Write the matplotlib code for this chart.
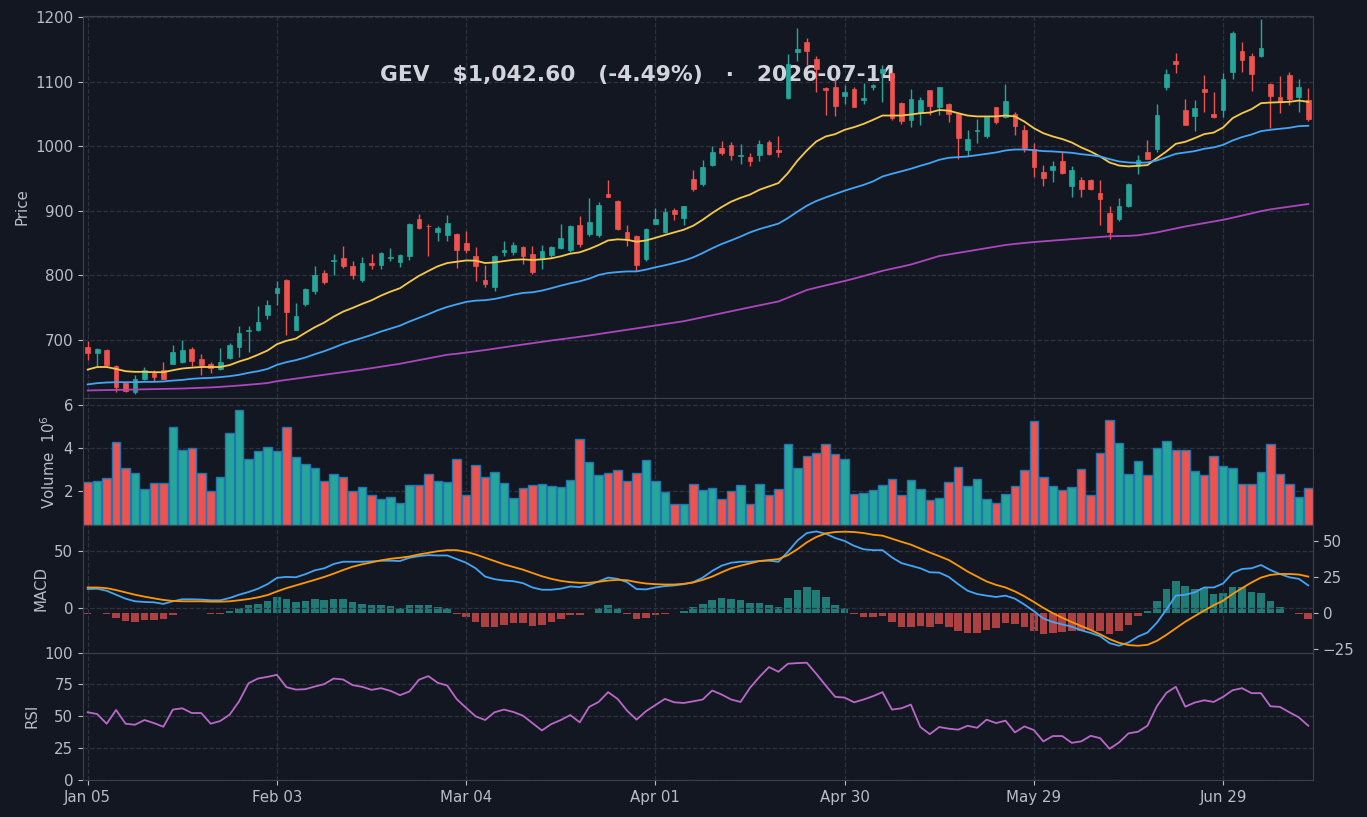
import numpy as np
import matplotlib.pyplot as plt

# colours
BG = "#131722"
UP = "#26a69a"
DOWN = "#ef5350"
GRID = "#2e3240"
SPINE = "#3b3f4c"
TXT = "#b8bcc6"
TITLE = "#d1d4dc"

ticker = "GEV"
last_date = "2026-07-14"
tick_labels = ["Jan 05", "Feb 03", "Mar 04", "Apr 01", "Apr 30", "May 29", "Jun 29"]

open_ = [689.7, 679.4, 685, 660, 632.5, 619, 639, 649, 654, 663.4,
         666, 686.6, 671, 662, 655, 671.6, 689.7, 714, 715, 738,
         773, 793.3, 716, 756, 775, 803.6, 821.6, 826.8, 815, 793.3,
         819.6, 815.5, 827, 821, 829.4, 887.6, 877, 866.5, 862.9, 864,
         850, 830.4, 793.3, 781.4, 835.6, 835.6, 843.8, 833.5, 826.8, 831.4,
         842.8, 839.7, 878.4, 864.4, 862.9, 925.8, 915.5, 867, 861.3, 825.8,
         880, 867, 901.5, 888.6, 949.5, 941.8, 971, 997.4, 1001, 984,
         983, 986.6, 1007, 994.3, 1074, 1146.4, 1162, 1134.5, 1090.7, 1091.2,
         1077.8, 1088.2, 1071.6, 1091.2, 1113.9, 1113.9, 1066.5, 1040.7, 1052, 1086.6,
         1061.3, 1066, 1049, 993.3, 1022.7, 1015.9, 1060.3, 1045, 1050.5, 1025.3,
         995.4, 959.8, 962.4, 976.8, 939, 947.4, 947.4, 926.8, 896.4, 887,
         907.2, 968.6, 991.2, 995.4, 1091.2, 1131.4, 1055.7, 1046.9, 1089.2, 1050.5,
         1055.7, 1115.5, 1147.4, 1139.7, 1140.2, 1096.9, 1075.8, 1110.3, 1076.8, 1071.1]
high = [698, 687, 686.6, 661, 633.5, 645, 658, 654, 666, 692,
        700.5, 688.7, 678, 666, 687.6, 695, 722, 722, 752, 762,
        791.8, 794, 757, 780.4, 814.4, 808.8, 833, 845.9, 822.7, 829,
        833, 836, 842, 833, 880.9, 895.4, 880, 876, 893.8, 866,
        868, 843.8, 816.5, 831, 853.6, 851.5, 845, 844.8, 846.4, 845,
        879.4, 877.5, 891.2, 919, 912.9, 948, 916.5, 878.4, 862, 873,
        904.6, 904.6, 903.6, 907.2, 963.4, 978.9, 999.5, 1008, 1006, 1003,
        989, 1009.8, 1009.8, 1016, 1142, 1182.5, 1167, 1139.7, 1091.5, 1105,
        1094.8, 1092, 1098.5, 1096, 1125.8, 1114.5, 1069, 1088, 1076.8, 1087.5,
        1092, 1067, 1050, 1025.3, 1041.7, 1046.5, 1061, 1095.6, 1053.6, 1033,
        1004.6, 971, 976.3, 991.7, 969.6, 951.5, 948.5, 947.9, 906.7, 919.6,
        942.8, 985.6, 1009.8, 1064.9, 1119, 1144.8, 1072.7, 1071.6, 1110.3, 1083.5,
        1112.9, 1178.4, 1161.9, 1143.8, 1196.4, 1098, 1109.3, 1115.5, 1103.6, 1090.7]
low = [669.6, 659, 660, 619.6, 619.6, 616.5, 638, 637, 638.7, 662,
       664, 659, 645, 649, 654, 670, 673.7, 681.4, 713.5, 733,
       754.6, 708, 715, 753, 771.6, 786.6, 801, 811, 794.3, 789,
       809.8, 810, 821.6, 812.9, 824, 871.6, 829.4, 852.6, 852.6, 811,
       834.5, 790.7, 782, 775.3, 830.4, 832, 818, 802, 809.8, 826.8,
       841, 836, 843.8, 860.5, 859.3, 921, 869.6, 844.8, 807.2, 822.7,
       879, 865.5, 886, 878.4, 929.9, 939, 969, 985.6, 977.8, 972.7,
       968.6, 976.3, 986, 983, 1073, 1132.5, 1125.8, 1084.5, 1048.5, 1047,
       1065.5, 1060.5, 1065.5, 1087, 1069, 1040.5, 1034.5, 1030, 1032, 1047.9,
       1048, 1038, 979.9, 984, 1004.6, 1013, 1034.5, 1044, 1016.5, 990.2,
       952, 937.6, 944, 956.5, 922, 921, 932, 877.3, 856.2, 883.5,
       906, 956.7, 979.5, 991.7, 1087, 1112.9, 1033, 1022.7, 1053.6, 1043,
       1045.8, 1103.6, 1115.5, 1086, 1138, 1027.8, 1052, 1064, 1053.6, 1039]
close = [679.4, 686, 661, 627, 620.6, 640, 652.6, 642, 640, 682,
         685, 667, 661, 656.7, 666, 692.8, 711.3, 716, 727, 754.6,
         780.4, 743.8, 737.6, 778.9, 801, 789, 824, 815, 801, 819,
         816.5, 834.5, 829, 832, 879.9, 873.7, 875.8, 874, 881.4, 839.7,
         839.7, 813.9, 787, 830.4, 839.7, 847.4, 830.4, 804.6, 837.1, 843.8,
         857.7, 876.3, 849, 883, 909.3, 922, 871.6, 854, 816.5, 872,
         887.6, 898.5, 895.4, 907.2, 934, 968, 991, 989.2, 986.6, 986.6,
         977.3, 1003.6, 988, 990.2, 1127, 1150.5, 1148, 1119.6, 1087, 1062.4,
         1084.5, 1061.3, 1074.7, 1094.8, 1119.6, 1043.3, 1039.7, 1073, 1071.6, 1061.9,
         1091.2, 1049.5, 1012, 1011.4, 1025.3, 1045.8, 1038, 1070, 1031, 996.4,
         967, 950, 969, 957.7, 962.9, 933, 933, 917.5, 866.5, 906.7,
         940.7, 978.9, 980.4, 1047.9, 1111.3, 1126.8, 1033.5, 1058.8, 1084.5, 1044.8,
         1103.6, 1175.3, 1133.5, 1111.9, 1152.6, 1077.3, 1069.6, 1072.7, 1091.6, 1042.6]

# volume in millions
volume = [2.42, 2.47, 2.6, 4.28, 3.07, 2.84, 2.09, 2.37, 2.37, 4.98,
          3.91, 4.0, 2.84, 2.0, 2.65, 4.7, 5.77, 3.49, 3.86, 4.05,
          3.86, 5.02, 3.58, 3.26, 3.07, 2.47, 2.79, 2.65, 2.0, 2.19,
          1.81, 1.63, 1.72, 1.44, 2.28, 2.28, 2.79, 2.47, 2.42, 3.53,
          1.83, 3.21, 2.65, 2.88, 2.37, 1.67, 2.14, 2.28, 2.33, 2.23,
          2.19, 2.51, 4.42, 3.35, 2.74, 2.84, 2.98, 2.47, 2.84, 3.44,
          2.47, 1.95, 1.4, 1.4, 2.33, 2.05, 2.14, 1.63, 2.0, 2.28,
          1.4, 2.33, 1.81, 2.09, 4.19, 3.07, 3.63, 3.81, 4.19, 3.72,
          3.53, 1.86, 1.91, 2.05, 2.28, 2.56, 1.81, 2.51, 2.09, 1.58,
          1.67, 2.42, 3.12, 2.23, 2.56, 1.63, 1.44, 1.86, 2.23, 2.98,
          5.26, 2.65, 2.23, 2.05, 2.19, 3.02, 1.81, 3.81, 5.3, 4.23,
          2.79, 3.4, 2.74, 4.0, 4.33, 3.91, 3.91, 2.93, 2.74, 3.63,
          3.16, 3.07, 2.33, 2.33, 2.88, 4.19, 2.79, 2.33, 1.72, 2.14]

ma_fast = [654, 658, 658, 655, 651.5, 650.5, 650.5, 650, 650, 653,
           655.7, 657, 658, 658, 658, 661, 666.5, 671, 677, 683.5,
           693.3, 698.5, 702, 711, 719.6, 726.8, 736, 743.8, 749.5, 755.7,
           761.3, 768.6, 774.7, 780, 789.7, 799, 806.7, 814, 819, 821,
           823, 822.7, 819, 820, 822, 824, 824.7, 823.7, 824.7, 826.3,
           829.4, 833.5, 835.6, 840.7, 846.9, 854, 855.7, 855, 852, 854,
           858, 862.4, 866.5, 870.6, 876.8, 886, 896.4, 905.7, 914, 920,
           925, 932.5, 937.6, 942.8, 958.2, 977.3, 993.3, 1007.2, 1015, 1018.6,
           1025.3, 1029.4, 1034.5, 1040.7, 1047.4, 1047.4, 1047.4, 1049, 1051, 1052,
           1056, 1055, 1051, 1047.4, 1046, 1046, 1046, 1047.4, 1046, 1038,
           1027.8, 1020, 1015, 1011, 1005.7, 998, 991.7, 984, 974.7, 970,
           968.6, 969.6, 970.6, 981.4, 991.7, 1003.6, 1006.7, 1012.4, 1018.6, 1021,
           1028.9, 1043.3, 1051, 1057.2, 1066.5, 1067.5, 1068, 1068.6, 1070.6, 1068.6]
ma_mid = [631, 633, 634, 634.5, 634.5, 634.5, 635, 635, 635.6, 637,
          638, 639.7, 640.7, 641.2, 642.3, 643.8, 645.9, 649, 651.5, 655,
          661.3, 665.5, 668.6, 672.7, 677.8, 682.5, 688, 693.8, 698.5, 703,
          707.7, 712.9, 717.5, 722, 728.4, 734, 739.7, 745.9, 751, 755,
          758.8, 760.8, 761.5, 763.4, 766.5, 770, 772.7, 773.7, 776.3, 780,
          784, 787.6, 790.7, 794.8, 800.5, 803.6, 805, 806, 806, 808.8,
          812.4, 815.5, 819, 822.7, 827.8, 834.5, 841.8, 848.5, 854, 860,
          866.5, 871.6, 875.8, 880, 888.6, 898.5, 907.7, 915, 920.6, 925.8,
          931, 935.6, 940, 945.4, 953, 957.2, 961, 965, 969.6, 973.7,
          978.9, 982, 983, 984, 986, 988.1, 990.2, 993.3, 994.8, 994.8,
          993.8, 992.3, 991.8, 990.7, 989.7, 987.6, 986, 984, 979.9, 976.3,
          974.7, 974.2, 974.7, 977.8, 983, 988.1, 990.2, 992.3, 995.9, 998,
          1002, 1008.8, 1014, 1018, 1023.2, 1025.3, 1026.8, 1028.4, 1031, 1031.5]
ma_slow = [621.6, 622, 622.2, 622.5, 622.8, 623.2, 623.4, 623.7, 624, 624.3,
           624.7, 625.2, 625.8, 626.4, 627.2, 628.2, 629.3, 630.5, 631.8, 633.2,
           636, 638, 640, 642, 644, 646, 648, 650, 652, 654,
           656.2, 658.5, 660.8, 663, 665.8, 668.6, 671.4, 674.2, 677, 678.5,
           680.4, 682.3, 684.2, 686.4, 688.5, 690.7, 692.8, 695, 697, 699,
           700.9, 702.9, 704.8, 706.8, 709, 711.1, 713.3, 715.5, 717.7, 720,
           722.2, 724.5, 726.7, 728.9, 732, 735.1, 738.2, 741.3, 744.5, 747.5,
           750.5, 753.5, 756.5, 759.5, 765.3, 771.2, 777.2, 780.9, 784.4, 787.8,
           791.2, 794.9, 798.9, 802.9, 806.9, 810.2, 813.3, 816.7, 821, 825.5,
           829.9, 832.3, 834.8, 837.2, 839.6, 842.1, 844.5, 846.9, 848.6, 850.1,
           851.5, 852.6, 853.8, 854.9, 856, 857.2, 858.3, 859.4, 860.4, 860.7,
           861.1, 862, 864.1, 866.4, 869.5, 872.6, 875.6, 878.2, 880.8, 883.4,
           885.9, 889.1, 892.5, 895.9, 899.3, 902.1, 904.2, 906.3, 908.3, 910.4]

macd = [16.6, 16.9, 15.1, 11.6, 8.1, 5.8, 5.2, 4.9, 3.5, 5.8,
        7.6, 7.6, 7.3, 6.7, 6.7, 8.7, 11.6, 14, 16.9, 20.9,
        26.5, 27.3, 27, 29.7, 33.1, 34.9, 38.7, 40.7, 40.7, 40.7,
        41, 41.6, 41.6, 41.3, 44.2, 45.6, 46.5, 46.2, 46.2, 43,
        39.8, 34.9, 27.6, 25.3, 24.1, 23.5, 21.8, 18, 16, 16,
        16.9, 18.9, 18.3, 20.3, 23.3, 26.7, 25.6, 22.7, 16.6, 16.3,
        18, 19.2, 19.8, 20.9, 22.7, 26.7, 32.6, 37.2, 39.8, 40.7,
        40.7, 41.3, 41.6, 40.7, 49.4, 59.3, 66, 67.4, 65.4, 61.6,
        59, 54.7, 51.7, 50.9, 50.9, 44.5, 39.5, 37.2, 34.9, 31.4,
        31.1, 27.3, 20.9, 15.1, 12.2, 10.8, 9.6, 10.8, 8.1, 2.9,
        -2.9, -9.3, -12.5, -14.5, -16.6, -19.8, -22.1, -25, -31.1, -33.4,
        -30.5, -25.3, -21.8, -13.1, -1.5, 10.8, 11.6, 13.7, 18, 18,
        21.5, 30.8, 34.3, 34.9, 37.8, 33.4, 29.9, 27, 25.6, 19.8]
signal = [18, 18, 17.4, 15.7, 13.7, 11.6, 9.9, 8.4, 7, 6.1,
          5.8, 5.8, 5.8, 5.5, 5.5, 5.8, 6.7, 7.8, 9.3, 11.3,
          14.5, 17.4, 19.8, 22.1, 24.7, 27.3, 30.2, 33.4, 36.3, 38.4,
          40.1, 41.9, 43.3, 44.2, 45.3, 47.1, 48.5, 50, 50.9, 50.9,
          49.4, 47.1, 44.2, 41.3, 38.4, 36, 33.7, 30.8, 27.9, 25.6,
          23.8, 22.7, 22.1, 22.1, 23, 24.1, 24.7, 24.4, 22.7, 21.5,
          20.9, 20.6, 20.6, 21.2, 22.4, 24.7, 27.6, 31.4, 34.9, 37.2,
          39.2, 41.3, 42.2, 43, 46.5, 51.7, 57.8, 62.5, 65.7, 66.9,
          67.2, 66.9, 66, 64.5, 63.7, 61, 58.3, 55.8, 52.3, 48.8,
          45.6, 42.2, 37.2, 32, 27.6, 23.3, 20.3, 18, 14.5, 10.2,
          5.2, 0, -4.7, -8.7, -12.5, -16, -19.5, -23.3, -27.6, -30.8,
          -32.8, -33.4, -32.6, -29.1, -23.8, -18, -12.2, -7.3, -2.3, 2.3,
          6.4, 12.2, 17.4, 22.4, 26.7, 29.1, 29.9, 29.9, 29.4, 27.6]
hist = [-0.7, 0, -1.1, -3.9, -5.7, -6.7, -5.3, -5.3, -4.6, -1.8,
        0, 0, 0, -0.5, -0.5, 1.1, 3.4, 5.1, 6.4, 8.5,
        11.3, 9.9, 7.8, 8.5, 9.9, 9.2, 9.9, 9.9, 7.8, 6.4,
        5.7, 5.3, 4.4, 3, 5.3, 5.3, 5.3, 3.7, 3, -0.6,
        -3, -6.7, -9.9, -9.9, -8.5, -7.1, -7.1, -9.2, -8.5, -6.4,
        -4.4, -1.6, -1.6, 0, 3, 5.1, 3, -0.5, -4.4, -3.7,
        -1.6, -0.5, 0, 1.6, 3.7, 6.4, 9.2, 10.6, 9.9, 9.2,
        7.1, 7.1, 5.1, 3.7, 10.6, 16.1, 18.2, 16.1, 11.3, 5.7,
        3, -1.1, -3, -3, -2.3, -6.7, -9.9, -9.9, -9.2, -9.9,
        -7.8, -9.9, -12.6, -14, -14, -12, -10.6, -7.1, -7.8, -9.9,
        -12.6, -14.7, -14, -13.3, -12.6, -12.6, -12, -12.6, -14.7, -12.6,
        -8.5, -2.3, 1.6, 8.5, 16.8, 22.3, 18.9, 16.8, 17.2, 13.3,
        14, 18.2, 18.2, 14.7, 14, 8.5, 3.7, 0, -1.1, -4.4]
rsi = [53.2, 51.8, 44.2, 55, 44.2, 43.4, 47.1, 44.7, 41.8, 55.3,
       56.3, 52.6, 52.6, 44.2, 46.3, 51.3, 61.8, 76, 79.7, 81,
       82.6, 72.9, 71, 71.3, 73.4, 75.3, 79.7, 78.9, 74.5, 73.2,
       70.8, 72.1, 70, 66.6, 69.5, 78.7, 81.6, 76.3, 74.2, 63.5,
       56.6, 50, 47.1, 53.2, 55.3, 53.4, 50.5, 44.7, 38.9, 43.9,
       47.1, 51, 45.3, 57.4, 61.3, 69, 63.7, 54.5, 47.4, 54,
       58.9, 63.7, 61, 60.5, 61.8, 63.2, 70.3, 67.1, 63.2, 61.3,
       72.4, 81, 88.7, 85, 91.3, 91.8, 92.1, 83.4, 74.2, 65.3,
       64.7, 61, 63.2, 65.8, 69, 55.3, 56.3, 59.2, 41.6, 36,
       41.6, 40.3, 39.5, 42.6, 41, 47.4, 44.7, 46.6, 37.4, 42.1,
       39.2, 30.3, 34.5, 34.5, 29.2, 30.3, 34.7, 32.9, 24.5, 29.5,
       36.6, 37.9, 42.6, 57.9, 68.4, 73.2, 57.6, 60.8, 62.6, 61.3,
       65.3, 70.5, 72.1, 68.2, 68.2, 57.9, 57.4, 53.2, 49.2, 42.6]

o = np.array(open_); h = np.array(high); l = np.array(low); c = np.array(close)
n = len(c)
x = np.arange(n)
up = c >= o
cols = np.where(up, UP, DOWN)

plt.rcParams['font.size'] = 10.8

fig = plt.figure(figsize=(13.67, 8.17), dpi=100, facecolor=BG)
gs = fig.add_gridspec(4, 1, height_ratios=[3, 1, 1, 1], hspace=0,
                      left=0.0607, right=0.9605, top=0.9804, bottom=0.0453)
ax_p = fig.add_subplot(gs[0])
ax_v = fig.add_subplot(gs[1], sharex=ax_p)
ax_m = fig.add_subplot(gs[2], sharex=ax_p)
ax_r = fig.add_subplot(gs[3], sharex=ax_p)
ax_h = ax_m.twinx()

def style(ax, grid=True):
    ax.set_facecolor(BG)
    for s in ax.spines.values():
        s.set_color(SPINE)
    ax.tick_params(colors=TXT, labelcolor=TXT, which='both')
    if grid:
        ax.grid(True, linestyle='--', color=GRID, linewidth=0.9)
        ax.set_axisbelow(True)

for a in (ax_p, ax_v, ax_m, ax_r):
    style(a)
style(ax_h, grid=False)
ax_h.patch.set_visible(False)

# title sits under the candles
pct = (c[-1] / c[-2] - 1) * 100
title = f"{ticker}   \\${c[-1]:,.2f}   ({pct:.2f}%)   ·   {last_date}"
ax_p.text(0.451, 0.846, title, transform=ax_p.transAxes, ha='center', va='center',
          fontsize=15.7, fontweight='bold', color=TITLE, zorder=1)

# candles
body_lo = np.minimum(o, c)
body_h = np.maximum(np.abs(c - o), 0.8)
ax_p.vlines(x, l, h, colors=cols, linewidth=1.0, zorder=2)
ax_p.bar(x, body_h, bottom=body_lo, width=0.5, color=cols, edgecolor=cols, linewidth=0.5, zorder=3)
ax_p.plot(x, ma_fast, color="#f7c948", lw=1.3, zorder=4)
ax_p.plot(x, ma_mid, color="#42a5f5", lw=1.3, zorder=4)
ax_p.plot(x, ma_slow, color="#ab47bc", lw=1.3, zorder=4)
ax_p.set_ylim(610, 1201.5)
ax_p.set_yticks([700, 800, 900, 1000, 1100, 1200])
ax_p.set_ylabel("Price", color=TXT)

# volume
ax_v.bar(x, volume, width=0.9, color=cols, edgecolor="#1f77b4", linewidth=1.0, zorder=2)
ax_v.set_ylim(0.3 * min(volume), 1.1 * max(volume))
ax_v.set_yticks([2, 4, 6])
ax_v.set_ylabel("Volume  $10^{6}$", color=TXT)

# macd
hcols = np.where(np.array(hist) >= 0, UP, DOWN)
ax_h.bar(x, hist, width=0.8, color=hcols, alpha=0.7, zorder=1)
ax_h.set_ylim(-27.8, 61)
ax_h.set_yticks([-25, 0, 25, 50])
ax_m.plot(x, macd, color="#42a5f5", lw=1.3, zorder=4)
ax_m.plot(x, signal, color="#ff9800", lw=1.3, zorder=4)
ax_m.set_ylim(-39.5, 72.8)
ax_m.set_yticks([0, 50])
ax_m.set_zorder(ax_h.get_zorder() + 1)
ax_m.patch.set_visible(False)
ax_m.set_ylabel("MACD", color=TXT)

# rsi
ax_r.plot(x, rsi, color="#ba68c8", lw=1.3)
ax_r.set_ylim(0, 100)
ax_r.set_yticks([0, 25, 50, 75, 100])
ax_r.set_ylabel("RSI", color=TXT)

ax_r.set_xlim(-0.5, n - 0.5)
ax_r.set_xticks(np.arange(0, n, 20))
ax_r.set_xticklabels(tick_labels)
for a in (ax_p, ax_v, ax_m, ax_h):
    a.tick_params(axis='x', labelbottom=False, length=0)

fig.savefig("out.png", dpi=100, facecolor=BG)
